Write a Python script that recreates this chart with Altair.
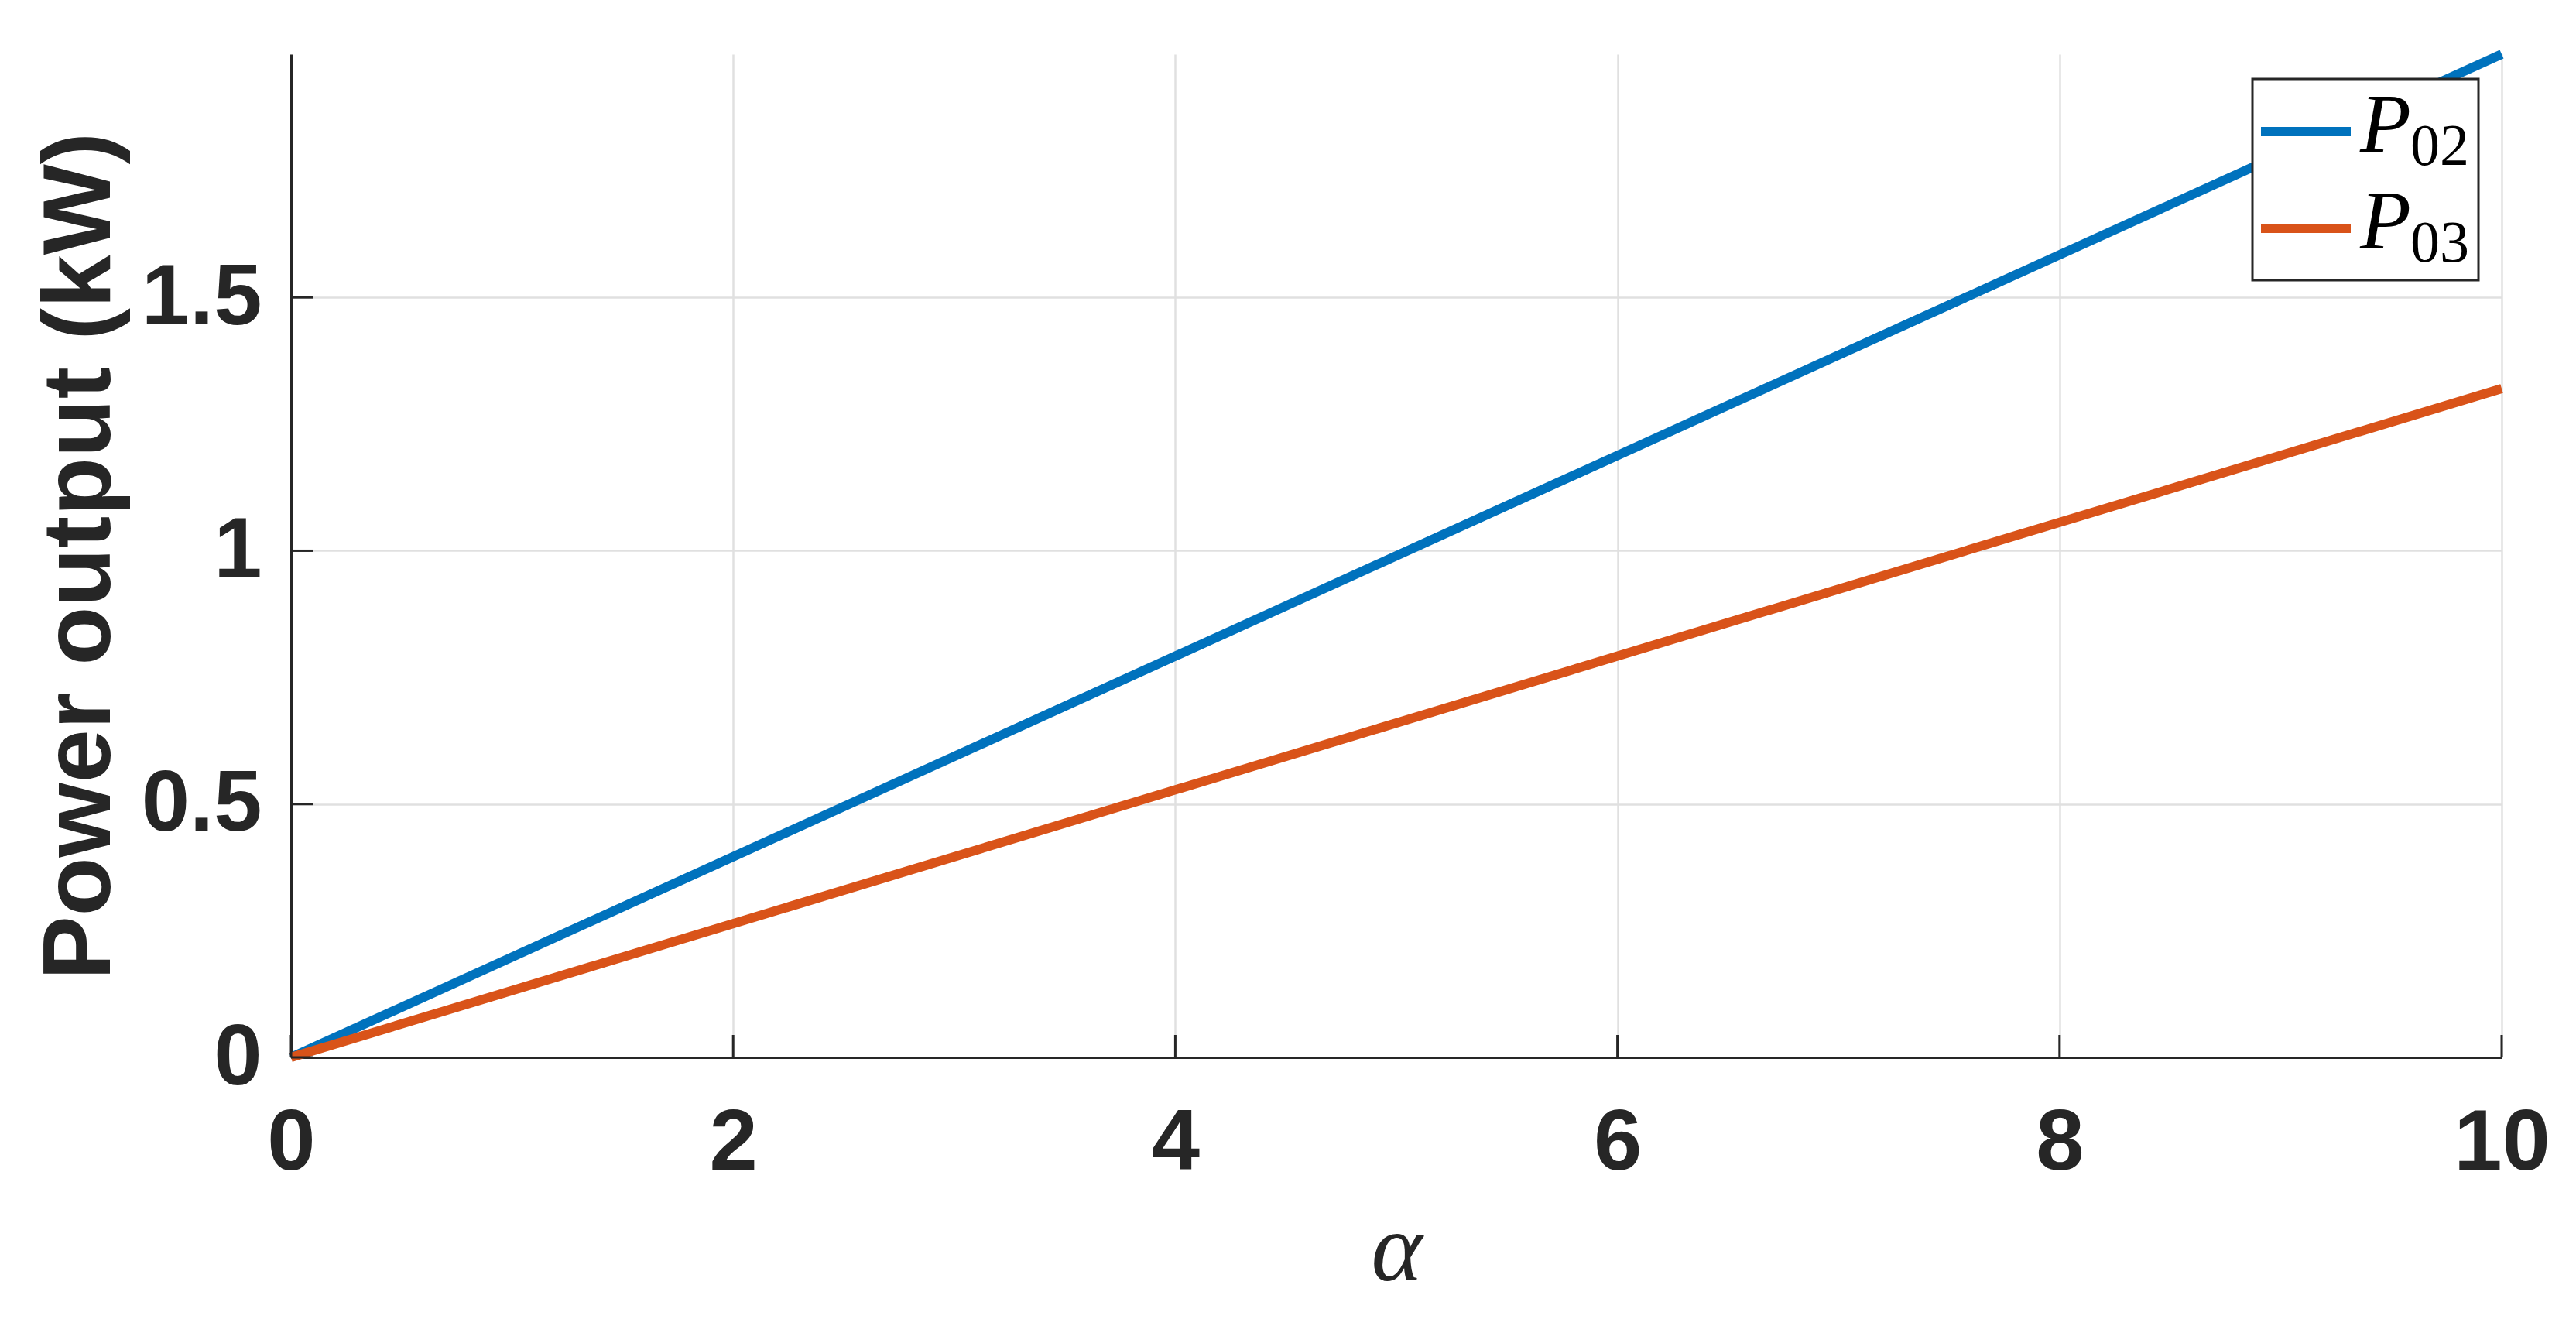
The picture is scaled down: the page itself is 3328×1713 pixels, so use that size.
import altair as alt
import pandas as pd

# ---- data ----
alpha = [0, 5, 10]
p02 = [0, 0.99, 1.98]
p03 = [0, 0.66, 1.32]
series_names = ["P02", "P03"]
series_subs = ["02", "03"]
colors = ["#0072BD", "#D95319"]
x_ticks = [0, 2, 4, 6, 8, 10]
y_ticks = [0, 0.5, 1, 1.5]
x_domain = [0, 10]
y_domain = [0, 1.98]

W, H = 2856, 1296
INK = "#262626"
LW = 12

df = pd.DataFrame({
    "alpha": alpha + alpha,
    "power": p02 + p03,
    "series": [series_names[0]] * len(alpha) + [series_names[1]] * len(alpha),
})

xscale = alt.Scale(domain=x_domain, nice=False, zero=False)
yscale = alt.Scale(domain=y_domain, nice=False, zero=False)

common_axis = dict(
    domainColor=INK, domainWidth=3, ticks=False, tickSize=0,
    grid=True, gridColor="#e0e0e0", gridWidth=2.5,
    labelFont="Liberation Sans", labelFontWeight="bold", labelFontSize=112,
    labelColor=INK, labelFlush=False, labelOverlap=False, labelBound=False,
    labelLimit=0, titleLimit=0,
    format="~r",
)

x_axis = alt.Axis(
    values=x_ticks, title="α", labelPadding=56,
    titleFont="Liberation Serif", titleFontStyle="italic", titleFontWeight="normal",
    titleFontSize=126, titleColor=INK, titleX=W / 2, titleY=287,
    titleBaseline="alphabetic", titleAlign="center", **common_axis)
y_axis = alt.Axis(
    values=y_ticks, title="Power output (kW)", labelPadding=38,
    titleFont="Liberation Sans", titleFontWeight="bold", titleFontSize=124,
    titleColor=INK, titleAngle=270, titleX=-235, titleY=H / 2,
    titleBaseline="alphabetic", titleAlign="center", **common_axis)

lines = alt.Chart(df).mark_line(strokeWidth=LW, strokeCap="butt", clip=False).encode(
    x=alt.X("alpha:Q", scale=xscale, axis=x_axis),
    y=alt.Y("power:Q", scale=yscale, axis=y_axis),
    color=alt.Color("series:N", scale=alt.Scale(domain=series_names, range=colors), legend=None),
)

# inward tick marks (MATLAB style)
xt = alt.Chart(pd.DataFrame({"xt": x_ticks})).mark_rule(color=INK, strokeWidth=3).encode(
    x=alt.X("xt:Q", scale=xscale, axis=x_axis),
    y=alt.value(H), y2=alt.value(H - 29),
)
yt = alt.Chart(pd.DataFrame({"yt": y_ticks})).mark_rule(color=INK, strokeWidth=3).encode(
    y=alt.Y("yt:Q", scale=yscale, axis=y_axis),
    x=alt.value(0), x2=alt.value(29),
)

one = pd.DataFrame({"k": [0]})
legend_layers = [
    alt.Chart(one).mark_rect(fill="white", stroke=INK, strokeWidth=3).encode(
        x=alt.value(2534), x2=alt.value(2826), y=alt.value(32), y2=alt.value(292))
]
for i, (sub, col) in enumerate(zip(series_subs, colors)):
    y0 = 100 + i * 125
    legend_layers.append(
        alt.Chart(one).mark_rule(color=col, strokeWidth=LW).encode(
            x=alt.value(2545), x2=alt.value(2661), y=alt.value(y0)))
    legend_layers.append(
        alt.Chart(one).mark_text(text="P", font="Liberation Serif", fontStyle="italic",
                                 fontSize=108, align="left", baseline="alphabetic",
                                 color="black").encode(x=alt.value(2673), y=alt.value(y0 + 26)))
    legend_layers.append(
        alt.Chart(one).mark_text(text=sub, font="Liberation Serif", fontSize=76,
                                 align="left", baseline="alphabetic",
                                 color="black").encode(x=alt.value(2738), y=alt.value(y0 + 43)))

chart = alt.layer(lines, xt, yt, *legend_layers).properties(
    width=W, height=H,
    autosize=alt.AutoSizeParams(type="none"),
    padding={"left": 368, "top": 62, "right": 88, "bottom": 339},
).configure(background="white").configure_view(stroke=None)

chart.save("out.html", embed_options={"renderer": "svg", "actions": False})
